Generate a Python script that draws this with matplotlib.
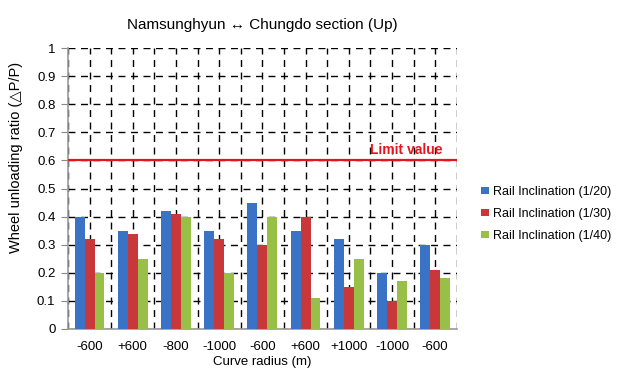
import numpy as np
import matplotlib.pyplot as plt

plt.rcParams['font.family'] = ['Liberation Sans', 'DejaVu Sans']

categories = ["-600", "+600", "-800", "-1000", "-600", "+600", "+1000", "-1000", "-600"]
incl_20 = [0.40, 0.35, 0.42, 0.35, 0.45, 0.35, 0.32, 0.20, 0.30]
incl_30 = [0.32, 0.34, 0.41, 0.32, 0.30, 0.40, 0.15, 0.10, 0.21]
incl_40 = [0.20, 0.25, 0.40, 0.20, 0.40, 0.11, 0.25, 0.17, 0.18]
limit = 0.6

series = [
    ("Rail Inclination (1/20)", incl_20, "#3a72c6"),
    ("Rail Inclination (1/30)", incl_30, "#c8383a"),
    ("Rail Inclination (1/40)", incl_40, "#98bf47"),
]

fig = plt.figure(figsize=(6.21, 3.72), dpi=100)
ax = fig.add_axes([0.1095, 0.1156, 0.626, 0.755])

x = np.arange(len(categories))
w = 0.23
for i, (name, vals, col) in enumerate(series):
    ax.bar(x + (i - 1) * w, vals, w, color=col, label=name, zorder=3)

ax.axhline(limit, color="#e8141c", lw=1.6, zorder=4)
ax.text(8.18, limit + 0.012, "Limit value", color="#e8141c", fontsize=10,
        fontweight="bold", ha="right", va="bottom", zorder=5)

ax.set_xlim(-0.5, len(categories) - 0.5)
ax.set_ylim(0, 1)
ax.set_yticks(np.arange(0, 1.01, 0.1))
ax.set_yticklabels(["0"] + [f"{v:.1f}" for v in np.arange(0.1, 0.95, 0.1)] + ["1"])
ax.set_xticks(x)
ax.set_xticklabels(categories)
ax.set_xticks(np.arange(-0.5, len(categories), 1), minor=True)
ax.tick_params(axis="x", which="both", length=0, labelsize=9.5, pad=9)
ax.tick_params(axis="y", labelsize=9.5, length=5, color="#888888", pad=4)

ax.grid(True, which="both", axis="x", color="black", ls=(0, (5, 4)), lw=1.0, zorder=0)
ax.grid(True, which="major", axis="y", color="black", ls=(0, (5, 4)), lw=1.0, zorder=0)
for s in ["top", "right"]:
    ax.spines[s].set_visible(False)
for s in ["left", "bottom"]:
    ax.spines[s].set_color("#999999")
    ax.spines[s].set_linewidth(1.2)

ax.set_title("Namsunghyun \u2194 Chungdo section (Up)", fontsize=11, pad=14)
ax.set_xlabel("Curve radius (m)", fontsize=9.5, labelpad=2)
ax.set_ylabel("Wheel unloading ratio (\u25b3P/P)", fontsize=10.5)
ax.yaxis.set_label_coords(-0.116, 0.61)

fig.legend(loc="center left", bbox_to_anchor=(0.757, 0.425), frameon=False,
           fontsize=9, handlelength=0.6, handleheight=0.6, handletextpad=0.3,
           labelspacing=0.8)

fig.savefig("out.png", dpi=100)
